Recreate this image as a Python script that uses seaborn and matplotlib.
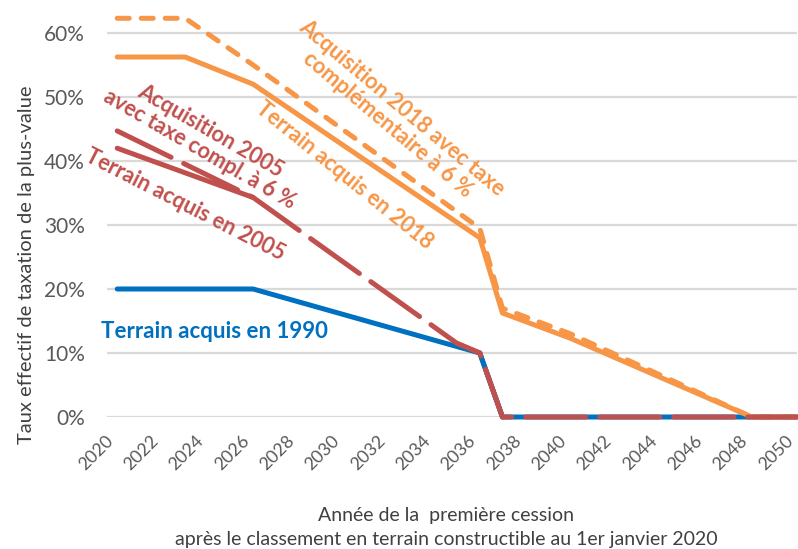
import matplotlib
matplotlib.use("Agg")
import matplotlib.pyplot as plt
import matplotlib.transforms as mtransforms
import seaborn as sns
import pandas as pd
from matplotlib.ticker import FuncFormatter

# ---- data (breakpoints of each series, in %) ----
years_1990 = [2020, 2026, 2036, 2037, 2050]
rate_1990 = [20, 20, 10, 0, 0]

# solid 2005 line: only the parts visible in the reference (elsewhere it lies under the dashed one)
years_2005 = [2020, 2026, 2035, 2036, 2037]
rate_2005 = [42, 34.3, 11.5, 10, 0]
segment_2005 = [1, 1, 2, 2, 2]

years_2005_taxe = [2020, 2026, 2035, 2036, 2037, 2050]
rate_2005_taxe = [44.7, 34.3, 11.5, 10, 0, 0]

years_2018 = [2020, 2023, 2026, 2036, 2037, 2040, 2048, 2050]
rate_2018 = [56.25, 56.25, 52, 28, 16.25, 12.3, 0, 0]
rate_2018_taxe = [62.3, 62.3, 55, 29.5, 17, 13, 0, 0]

x_ticks = list(range(2020, 2051, 2))
y_ticks = [0, 10, 20, 30, 40, 50, 60]

ORANGE = "#F79646"
RED = "#C0504D"
BLUE = "#0070C0"
GREY = "#595959"

sns.set_theme(style="white")
plt.rcParams["font.family"] = ["Lato", "DejaVu Sans"]

fig = plt.figure(figsize=(7.98, 5.49), dpi=100)
ax = fig.add_axes([107 / 798, (549 - 417) / 549, (797 - 107) / 798, 416 / 549])

def df(years, vals, seg=None):
    d = pd.DataFrame({"year": years, "rate": [v / 100 for v in vals]})
    d["seg"] = seg if seg is not None else 1
    return d

LW = 3.6
series = [
    (df(years_2018, rate_2018_taxe), ORANGE, (2.4, 2.4)),
    (df(years_2005, rate_2005, segment_2005), RED, None),
    (df(years_1990, rate_1990), BLUE, None),
    (df(years_2018, rate_2018), ORANGE, None),
    (df(years_2005_taxe, rate_2005_taxe), RED, (12, 2.8)),
]
for data, col, dash in series:
    n0 = len(ax.lines)
    sns.lineplot(data=data, x="year", y="rate", units="seg", estimator=None,
                 ax=ax, color=col, linewidth=LW, legend=False)
    for line in ax.lines[n0:]:
        line.set_solid_capstyle("round")
        line.set_dash_capstyle("round")
        line.set_solid_joinstyle("round")
        line.set_clip_on(False)
        if dash is not None:
            line.set_dashes(dash)

ax.set_xlim(2019.55, 2050)
ax.set_ylim(0, 0.65)
ax.set_yticks([v / 100 for v in y_ticks])
ax.yaxis.set_major_formatter(FuncFormatter(lambda v, p: f"{v*100:.0f}%"))
ax.set_xticks(x_ticks)
ax.tick_params(axis="x", length=0, pad=19.5)
ax.tick_params(axis="y", length=0, pad=16)
ax.set_xticklabels([str(t) for t in x_ticks], rotation=45, ha="right",
                   va="bottom", rotation_mode="anchor", fontsize=12.8, color=GREY)
for lab in ax.get_yticklabels():
    lab.set_fontsize(15)
    lab.set_color(GREY)
ax.grid(axis="y", color="#D9D9D9", linewidth=1.6)
ax.set_axisbelow(True)
for s in ax.spines.values():
    s.set_visible(False)
ax.set_xlabel("")
ax.set_ylabel("")
shift = mtransforms.ScaledTranslation(-1 / 100, 0, fig.dpi_scale_trans)
for lab in ax.xaxis.get_majorticklabels():
    lab.set_transform(lab.get_transform() + shift)

fig.text(27 / 798, 1 - 265 / 549, "Taux effectif de taxation de la plus-value",
         rotation=90, ha="center", va="center", fontsize=14.5, color="#404040")
fig.text(446 / 798, 1 - 516 / 549, "Année de la  première cession",
         ha="center", va="center", fontsize=14, color="#404040")
fig.text(446 / 798, 1 - 540 / 549,
         "après le classement en terrain constructible au 1er janvier 2020",
         ha="center", va="center", fontsize=14, color="#404040")

def note(px, py, txt, col, rot, size=15.6):
    fig.text(px / 798, 1 - py / 549, txt, color=col, rotation=rot,
             ha="center", va="center", rotation_mode="anchor",
             fontsize=size, fontweight="bold", linespacing=1.05)

note(214, 331, "Terrain acquis en 1990", BLUE, 0, 16)
note(185, 205, "Terrain acquis en 2005", RED, -27)
note(205, 140, "Acquisition 2005\navec taxe compl. à 6 %", RED, -30)
note(344, 175, "Terrain acquis en 2018", ORANGE, -39)
note(395, 116, "Acquisition 2018 avec taxe\ncomplémentaire à 6 %", ORANGE, -40)

fig.savefig("out.png", dpi=100)
